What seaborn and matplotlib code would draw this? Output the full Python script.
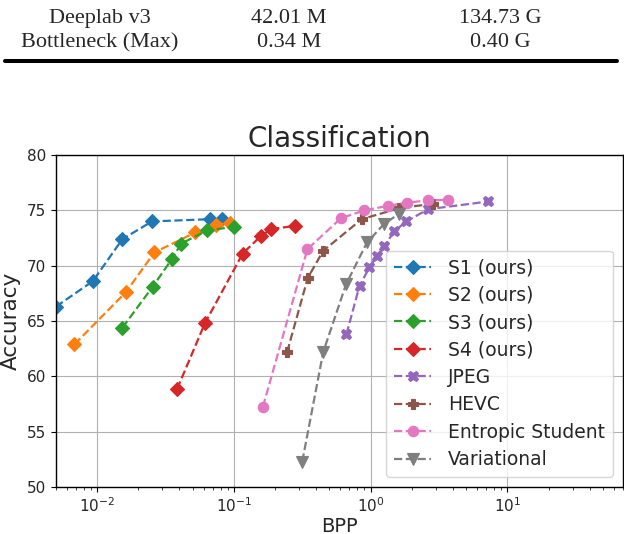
import matplotlib
matplotlib.use("Agg")
import matplotlib.pyplot as plt
import seaborn as sns
import pandas as pd

# ---- data ----
s1_x = [0.0050, 0.0093, 0.0153, 0.0252, 0.0664, 0.0817]
s1_y = [66.3, 68.6, 72.4, 74.0, 74.2, 74.2]
s2_x = [0.00683, 0.0162, 0.0262, 0.0523, 0.0743, 0.094]
s2_y = [62.9, 67.6, 71.2, 73.0, 73.7, 73.9]
s3_x = [0.0153, 0.0255, 0.0352, 0.0412, 0.0641, 0.100]
s3_y = [64.4, 68.1, 70.6, 72.0, 73.2, 73.5]
s4_x = [0.0384, 0.0614, 0.116, 0.158, 0.187, 0.279]
s4_y = [58.85, 64.8, 71.1, 72.7, 73.3, 73.6]
jpeg_x = [0.665, 0.83, 0.98, 1.11, 1.26, 1.49, 1.82, 2.63, 7.26]
jpeg_y = [63.8, 68.2, 69.85, 70.9, 71.8, 73.1, 74.0, 75.1, 75.8]
hevc_x = [0.245, 0.347, 0.45, 0.86, 1.62, 2.88]
hevc_y = [62.2, 68.9, 71.35, 74.2, 75.2, 75.6]
ent_x = [0.163, 0.345, 0.608, 0.90, 1.33, 1.85, 2.61, 3.69]
ent_y = [57.25, 71.5, 74.3, 75.0, 75.4, 75.7, 75.9, 75.95]
var_x = [0.316, 0.45, 0.66, 0.94, 1.26, 1.62]
var_y = [52.3, 62.2, 68.3, 72.1, 73.8, 74.7]

series_names = ["S1 (ours)", "S2 (ours)", "S3 (ours)", "S4 (ours)", "JPEG", "HEVC",
                "Entropic Student", "Variational"]
series_x = [s1_x, s2_x, s3_x, s4_x, jpeg_x, hevc_x, ent_x, var_x]
series_y = [s1_y, s2_y, s3_y, s4_y, jpeg_y, hevc_y, ent_y, var_y]
markers = ["D", "D", "D", "D", "X", "P", "o", "v"]
marker_sizes = [7.5, 7.5, 7.5, 7.5, 7.5, 7.5, 7.5, 8]

table_rows = [["Deeplab v3", "42.01 M", "134.73 G"],
              ["Bottleneck (Max)", "0.34 M", "0.40 G"]]

y_ticks = [50, 55, 60, 65, 70, 75, 80]

# ---- plot ----
sns.set_style("ticks")
plt.rcParams['font.family'] = ['DejaVu Sans']
palette = sns.color_palette("tab10", 8)

fig = plt.figure(figsize=(6.24, 5.34), dpi=100)
ax = fig.add_axes([0.0897, 0.088, 0.9087, 0.6217])

for name, xs, ys, m, ms, c in zip(series_names, series_x, series_y, markers,
                                  marker_sizes, palette):
    df = pd.DataFrame({"BPP": xs, "Accuracy": ys})
    sns.lineplot(data=df, x="BPP", y="Accuracy", ax=ax, color=c, marker=m,
                 markersize=ms, markeredgewidth=0.8, markeredgecolor=c,
                 linestyle="--", linewidth=1.6, label=name)

ax.set_xscale("log")
ax.set_xlim(0.005, 70)
ax.set_ylim(50, 80)
ax.set_yticks(y_ticks)
ax.grid(True, which="major", color="#b0b0b0", linewidth=0.8)
for sp in ax.spines.values():
    sp.set_visible(True)
    sp.set_color("black")
    sp.set_linewidth(1.0)
ax.tick_params(axis="both", labelsize=11, direction="out", color="black")
ax.set_xlabel("BPP", fontsize=14, labelpad=1)
ax.set_ylabel("Accuracy", fontsize=15.5)
ax.set_title("Classification", fontsize=20)

leg = ax.legend(loc="lower right", fontsize=13.5, framealpha=0.8,
                borderaxespad=0.55, handlelength=2.0, handletextpad=0.9,
                labelspacing=0.45, borderpad=0.4)

# table fragment above the chart
col_x = [100, 289, 500]
row_base = [23, 47]
for r, row in enumerate(table_rows):
    for c_i, txt in enumerate(row):
        fig.text(col_x[c_i] / 624, 1 - row_base[r] / 534, txt, ha="center",
                 va="baseline", fontsize=16,
                 family=["Liberation Serif", "DejaVu Serif"])
fig.add_artist(plt.Line2D([5 / 624, 617 / 624], [1 - 61 / 534, 1 - 61 / 534],
                          color="black", linewidth=2.9, transform=fig.transFigure))

fig.savefig("out.png", dpi=100)
